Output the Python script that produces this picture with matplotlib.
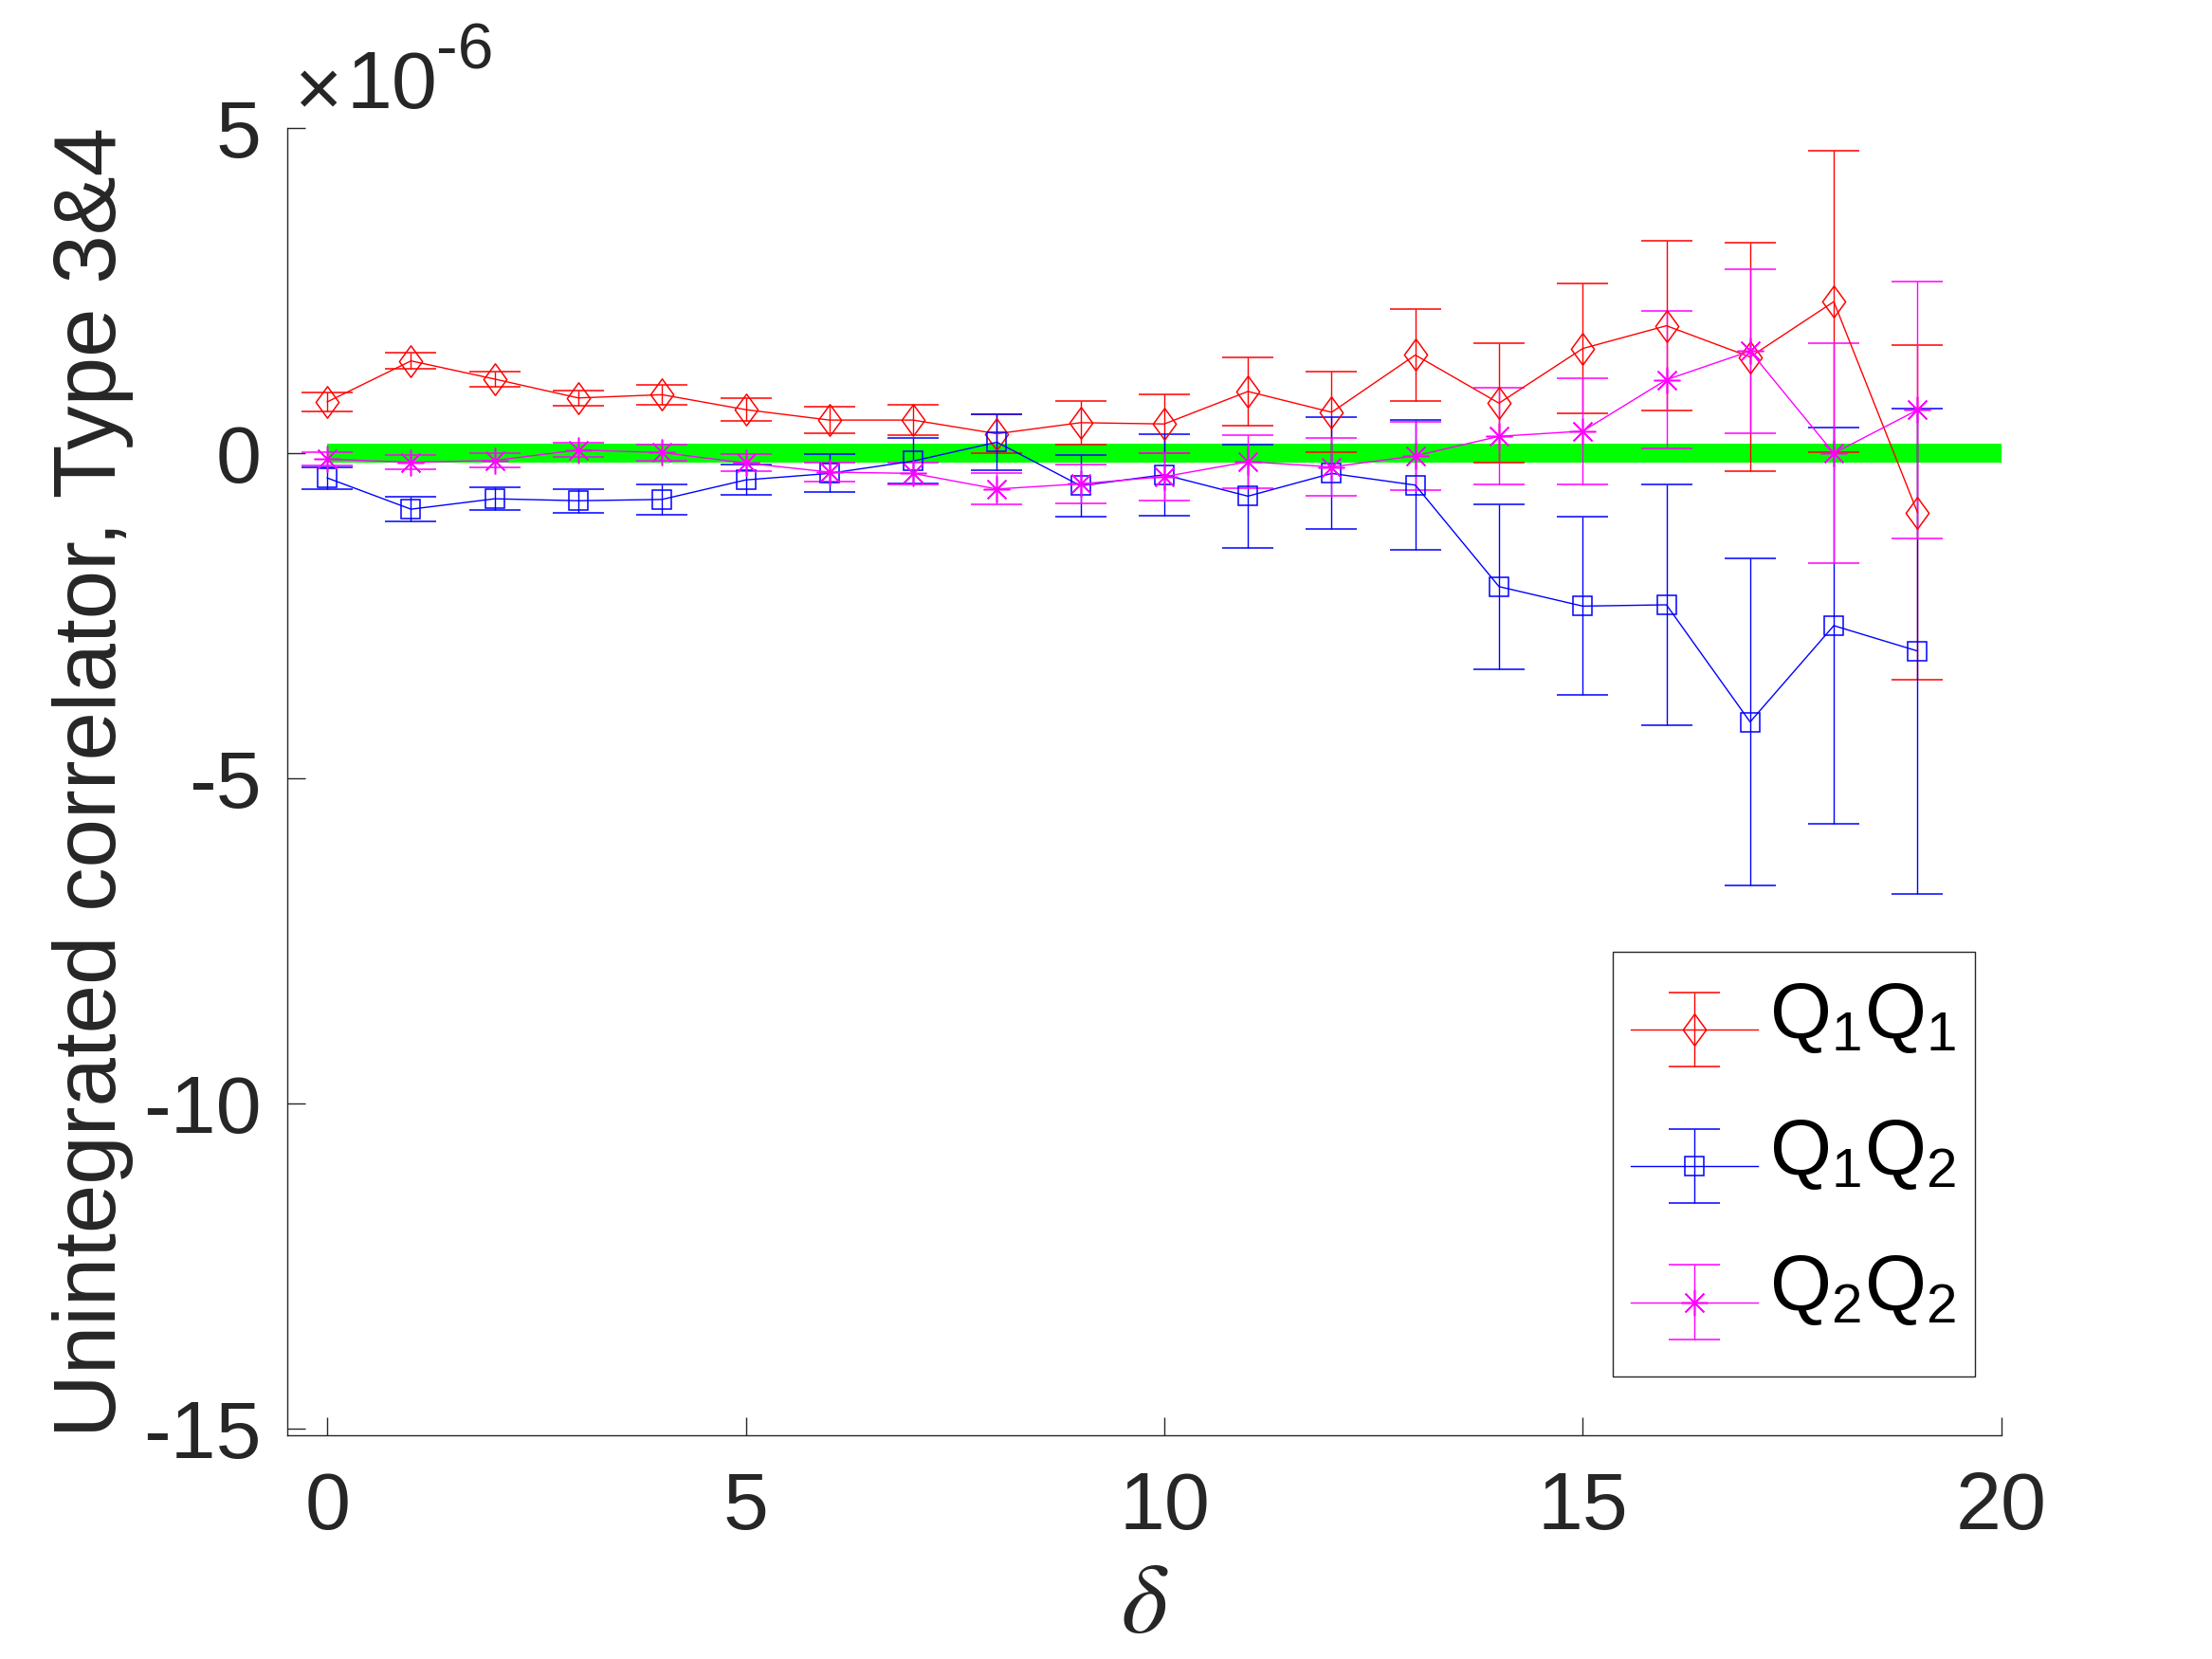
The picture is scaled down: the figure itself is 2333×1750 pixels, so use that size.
import numpy as np
import matplotlib
matplotlib.use("Agg")
import matplotlib.pyplot as plt
from matplotlib.path import Path
from matplotlib.container import ErrorbarContainer
from matplotlib.legend_handler import HandlerErrorbar

# ---- data (values in units of 1e-6) ----
delta = list(range(20))
q11 = [0.79, 1.42, 1.14, 0.85, 0.90, 0.67, 0.51, 0.51, 0.30, 0.47,
       0.45, 0.95, 0.63, 1.51, 0.77, 1.61, 1.96, 1.48, 2.33, -0.91]
q11_err = [0.15, 0.12, 0.12, 0.12, 0.15, 0.18, 0.20, 0.23, 0.30, 0.34,
           0.45, 0.53, 0.62, 0.71, 0.92, 1.00, 1.31, 1.76, 2.32, 2.57]
q12 = [-0.38, -0.86, -0.70, -0.73, -0.71, -0.41, -0.31, -0.12, 0.17, -0.50,
       -0.33, -0.66, -0.31, -0.49, -2.05, -2.35, -2.33, -4.13, -2.65, -3.04]
q12_err = [0.17, 0.19, 0.17, 0.18, 0.23, 0.23, 0.29, 0.35, 0.43, 0.47,
           0.63, 0.79, 0.86, 1.00, 1.27, 1.37, 1.85, 2.52, 3.05, 3.73]
q22 = [-0.09, -0.14, -0.11, 0.05, 0.01, -0.15, -0.29, -0.31, -0.55, -0.47,
       -0.36, -0.13, -0.21, -0.04, 0.26, 0.34, 1.13, 1.57, 0.00, 0.665]
q22_err = [0.10, 0.11, 0.11, 0.11, 0.12, 0.13, 0.15, 0.17, 0.24, 0.30,
           0.36, 0.41, 0.45, 0.52, 0.74, 0.82, 1.06, 1.26, 1.69, 1.97]
zero_x = [0, 20]
zero_y = [0, 0]
labels = [r'$\mathregular{Q_1Q_1}$', r'$\mathregular{Q_1Q_2}$', r'$\mathregular{Q_2Q_2}$']
xticks = [0, 5, 10, 15, 20]
yticks = [-15, -10, -5, 0, 5]

plt.rcParams['font.family'] = ['Liberation Sans', 'DejaVu Sans']
plt.rcParams['mathtext.fontset'] = 'custom'
plt.rcParams['mathtext.rm'] = 'Liberation Sans'
plt.rcParams['mathtext.it'] = 'Liberation Sans:italic'
plt.rcParams['axes.unicode_minus'] = False


class LoweredErrorbarHandler(HandlerErrorbar):
    """Errorbar legend handle drawn a little lower inside its row."""
    def __init__(self, lower_pts=0.0, **kw):
        super().__init__(**kw)
        self._lower = lower_pts

    def create_artists(self, legend, orig_handle, xdescent, ydescent,
                       width, height, fontsize, trans):
        return super().create_artists(legend, orig_handle, xdescent,
                                      ydescent + 2 * self._lower, width, height,
                                      fontsize, trans)


fig = plt.figure(figsize=(23.33, 17.5), dpi=100)
ax = fig.add_axes([0.1300, 0.13469, 0.7747, 0.78817])

dark = '#262626'
ax.plot(zero_x, zero_y, color='#00FF00', lw=14.4, solid_capstyle='butt', zorder=1)

diamond = Path([(0, 1), (0.73, 0), (0, -1), (-0.73, 0), (0, 1)],
               [Path.MOVETO, Path.LINETO, Path.LINETO, Path.LINETO, Path.CLOSEPOLY])

common = dict(lw=1.0, elinewidth=1.0, capsize=19.5, capthick=1.1,
              markerfacecolor='none', markeredgewidth=1.1, zorder=3)
ax.errorbar(delta, q11, yerr=q11_err, color='#FF0000', marker=diamond,
            markersize=24, label=labels[0], **common)
ax.errorbar(delta, q12, yerr=q12_err, color='#0000FF', marker='s',
            markersize=15, label=labels[1], **common)
ax.errorbar(delta, q22, yerr=q22_err, color='#FF00FF', marker=(8, 2, 0),
            markersize=20, label=labels[2], **common)

ax.set_xlim(-0.475, 20)
ax.set_ylim(-15.1, 5.0)
ax.set_xticks(xticks)
ax.set_yticks(yticks)
ax.spines['top'].set_visible(False)
ax.spines['right'].set_visible(False)
for s in ('left', 'bottom'):
    ax.spines[s].set_color(dark)
    ax.spines[s].set_linewidth(1.0)
ax.tick_params(direction='in', length=13.7, width=1.0, colors=dark,
               labelsize=62)
ax.tick_params(axis='x', pad=26.7)
ax.tick_params(axis='y', pad=19.9)

ax.set_ylabel('Unintegrated correlator, Type 3&4', fontsize=66.7, color=dark)
ax.yaxis.set_label_coords(-0.090, 0.5)
ax.set_xlabel(r'$\delta$', fontsize=76, color=dark, math_fontfamily='stix')
ax.xaxis.set_label_coords(0.5, -0.095)

fig.text(0.1438, 0.9303, '\u00d7', fontsize=62, color=dark, ha='center', va='baseline')
fig.text(0.1565, 0.93469, '10', fontsize=62, color=dark, ha='left', va='baseline')
fig.text(0.1972, 0.95846, '-6', fontsize=49, color=dark, ha='left', va='baseline')

leg = ax.legend(loc='lower right', bbox_to_anchor=(0.9847, 0.0452), borderaxespad=0,
                fontsize=60, handlelength=1.6, handleheight=1.876, handletextpad=0.15,
                labelspacing=0.26, borderpad=0.23, fancybox=False,
                framealpha=1, edgecolor=dark,
                handler_map={ErrorbarContainer: LoweredErrorbarHandler(lower_pts=13.7,
                                                                       yerr_size=0.47)})
leg.get_frame().set_linewidth(1.0)
for t in leg.get_texts():
    t.set_color('black')
    t.set_position((0, 16))

fig.savefig('out.png', dpi=100)
